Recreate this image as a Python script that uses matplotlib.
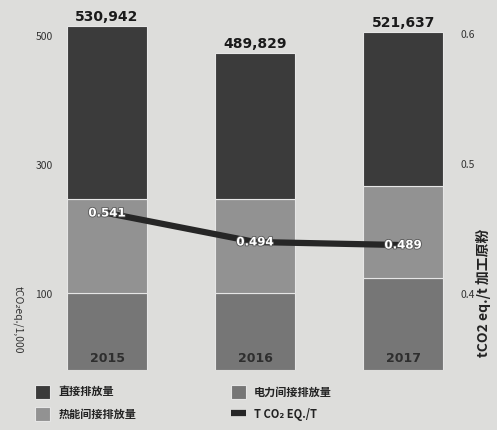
import matplotlib
matplotlib.use("Agg")
from matplotlib import pyplot as plt
import matplotlib.patheffects as pe

plt.rcParams['font.family'] = ['Noto Sans CJK SC', 'DejaVu Sans']

# Data (thousand t CO2 eq.)
years = ["2015", "2016", "2017"]
elec = [119, 119, 142]        # 电力间接排放量 (bottom)
heat = [145, 145, 142]        # 热能间接排放量 (middle)
direct = [266.9, 225.8, 237.6]  # 直接排放量 (top)
totals = ["530,942", "489,829", "521,637"]
intensity = [0.541, 0.494, 0.489]

bg = '#dddddb'
c_direct = '#3b3b3b'
c_heat = '#929292'
c_elec = '#767676'
c_line = '#262626'

fig = plt.figure(figsize=(4.97, 4.30), dpi=100, facecolor=bg)
ax = fig.add_axes([0.117, 0.1395, 0.7985, 0.814])
ax.set_facecolor(bg)

x = range(len(years))
w = 0.54
bottom2 = [a + b for a, b in zip(elec, heat)]
tops = [a + b for a, b in zip(bottom2, direct)]
ax.bar(x, elec, w, color=c_elec, edgecolor='#e6e6e6', linewidth=0.8, label='电力间接排放量')
ax.bar(x, heat, w, bottom=elec, color=c_heat, edgecolor='#e6e6e6', linewidth=0.8, label='热能间接排放量')
ax.bar(x, direct, w, bottom=bottom2, color=c_direct, edgecolor='#e6e6e6', linewidth=0.8, label='直接排放量')

ax.set_xlim(-0.33, 2.35)
ax.set_ylim(0, 540)
ax.set_xticks([])
ax.set_yticks([])
for s in ax.spines.values():
    s.set_visible(False)

for i, t in enumerate(totals):
    ax.text(i, tops[i] + 3, t, ha='center', va='bottom', fontsize=10,
            fontweight='semibold', color='#1a1a1a', family='DejaVu Sans')
    ax.text(i, 18, years[i], ha='center', va='center', fontsize=9,
            fontweight='bold', color='#2e2e2e', family='DejaVu Sans')

# left tick labels
axl = ax.twinx()
axl.set_ylim(-17.8, 524.8)
axl.set_yticks([100, 300, 500])
axl.yaxis.tick_left()
axl.tick_params(length=0, labelsize=7.5, labelcolor='#333333', pad=4)
for lab in axl.get_yticklabels():
    lab.set_fontstyle('italic')
for s in axl.spines.values():
    s.set_visible(False)

# right tick labels
axr = ax.twinx()
axr.set_ylim(0.3415, 0.6108)
axr.set_yticks([0.4, 0.5, 0.6])
axr.set_yticklabels(["0.4", "0.5", "0.6"])
axr.tick_params(length=0, labelsize=7.5, labelcolor='#333333', pad=4)
for lab in axr.get_yticklabels():
    lab.set_fontstyle('italic')
for s in axr.spines.values():
    s.set_visible(False)

# intensity line
ax2 = ax.twinx()
ax2.set_ylim(0.2865, 0.8538)
ax2.set_yticks([])
for s in ax2.spines.values():
    s.set_visible(False)
line, = ax2.plot(list(x), intensity, color=c_line, linewidth=4.5, solid_capstyle='butt',
                 label='T CO₂ EQ./T')
for i, v in enumerate(intensity):
    ax2.text(i, v, f"{v:.3f}", ha='center', va='center', fontsize=8.5, fontweight='bold',
             color='white', family='DejaVu Sans',
             path_effects=[pe.withStroke(linewidth=1.2, foreground='#555555')])

fig.text(0.036, 0.256, 'tCO₂eq./1,000', rotation=270, fontsize=7.5, style='italic',
         color='#333333', ha='center', va='center')
fig.text(0.972, 0.32, 'tCO2 eq./t 加工原粉', rotation=90, fontsize=10, fontweight='bold',
         color='#222222', ha='center', va='center')

handles, labels = ax.get_legend_handles_labels()
h = [handles[2], handles[1], handles[0], line]
l = [labels[2], labels[1], labels[0], line.get_label()]
leg = fig.legend(h, l, ncol=2, loc='upper left', bbox_to_anchor=(0.05, 0.128),
                 frameon=False, fontsize=8, columnspacing=8.5, handlelength=1.4,
                 handleheight=1.5, labelspacing=0.8, handletextpad=0.7)
for t in leg.get_texts():
    t.set_fontweight('bold')
    t.set_color('#222222')

plt.savefig('out.png', dpi=100, facecolor=bg)
